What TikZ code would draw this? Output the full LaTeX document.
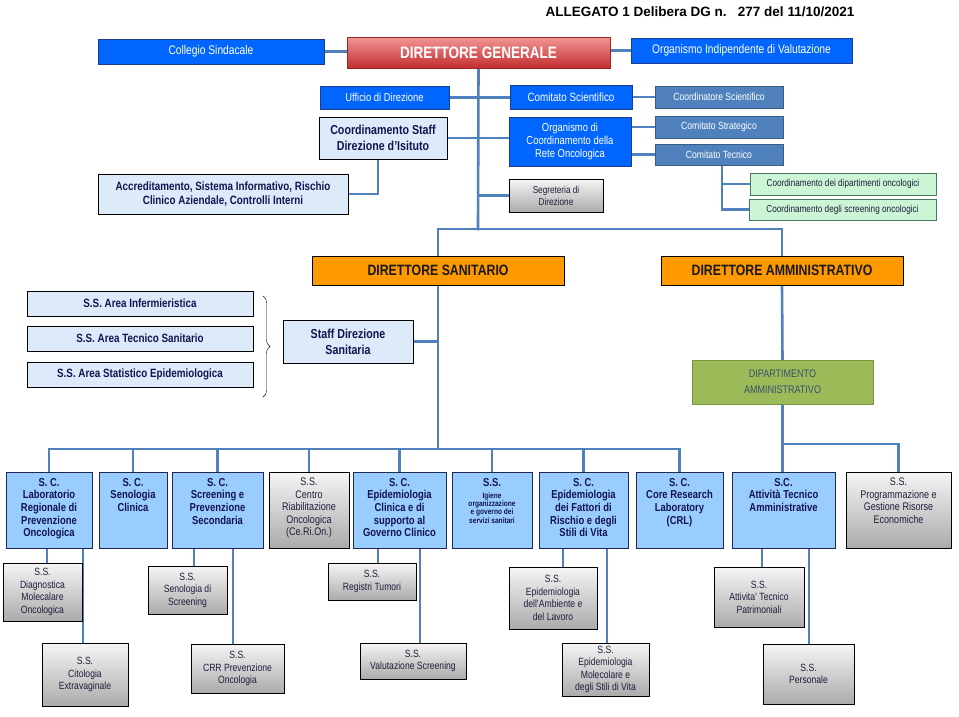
\documentclass[tikz,border=0pt]{standalone}
\usepackage{fontspec}
\setmainfont{Liberation Sans}[FakeStretch=0.82]
\newfontfamily\widefont{Liberation Sans}
\usetikzlibrary{decorations.pathreplacing,backgrounds}
\definecolor{vivid}{RGB}{0,102,255}
\definecolor{vividline}{RGB}{30,60,140}
\definecolor{steel}{RGB}{79,129,189}
\definecolor{steelline}{RGB}{56,93,138}
\definecolor{pale}{RGB}{220,234,250}
\definecolor{navy}{RGB}{20,20,80}
\definecolor{ink}{RGB}{30,30,60}
\definecolor{mint}{RGB}{204,245,214}
\definecolor{mintline}{RGB}{70,120,90}
\definecolor{orange1}{RGB}{255,153,0}
\definecolor{sky}{RGB}{153,204,255}
\definecolor{skyline}{RGB}{30,40,80}
\definecolor{olive1}{RGB}{155,187,89}
\definecolor{oliveline}{RGB}{120,150,65}
\definecolor{slate}{RGB}{60,78,110}
\definecolor{dgtop}{RGB}{242,150,150}
\definecolor{dgbot}{RGB}{195,45,45}
\definecolor{dgline}{RGB}{150,40,40}
\definecolor{linkblue}{RGB}{79,129,189}
\newcommand\fs[2]{\fontsize{#1}{#2}\selectfont}
\newcommand\tb[2]{\parbox[c][76pt][t]{#1pt}{\centering\vspace*{6pt}#2}}
\tikzset{
  wh/.style 2 args={minimum width=#1pt,minimum height=#2pt},
  box/.style={draw, inner sep=1pt, align=center, line width=0.7pt},
  vivbox/.style={box, fill=vivid, draw=vividline, text=white},
  steelbox/.style={box, fill=steel, draw=steelline, text=white, font=\fs{10.5}{12}},
  palebox/.style={box, fill=pale, draw=black, text=navy, font=\bfseries\fs{12}{14}},
  mintbox/.style={box, fill=mint, draw=mintline, text=ink, font=\fs{10}{12}},
  orbox/.style={box, fill=orange1, draw=black, text=black!90, font=\bfseries\fs{15}{17}},
  scbox/.style={box, inner sep=0pt, fill=sky, draw=skyline, text=navy, font=\bfseries\fs{11.5}{12.7}},
  greybox/.style={box, top color=white!96!black, bottom color=black!33, draw=black, text=ink, font=\fs{10.5}{12.5}},
  link/.style={draw=linkblue, line width=2.6pt, line cap=rect},
}
\begin{document}
\begin{tikzpicture}[x=1pt,y=-1pt]
\useasboundingbox (0,0) rectangle (959,716);
% vertice
\node[font=\widefont\bfseries\fs{13.5}{15}] (title) at (700,12) {ALLEGATO 1 Delibera DG n.\ \ \ 277 del 11/10/2021};
\node[vivbox, wh={226}{25}, font=\fs{12.5}{14}] (cs) at (211,51.5) {Collegio Sindacale};
\node[box, wh={263}{31}, top color=dgtop, bottom color=dgbot, draw=dgline, text=white, font=\bfseries\fs{16.5}{18}] (dg) at (478.5,52.5) {DIRETTORE GENERALE};
\node[vivbox, wh={221}{25}, font=\fs{12.5}{14}] (oiv) at (741.5,50.5) {Organismo Indipendente di Valutazione};
\node[vivbox, wh={129}{23}, font=\fs{11.5}{13}] (uff) at (384.5,97.5) {Ufficio di Direzione};
\node[palebox, wh={128}{42}, font=\bfseries\fs{13}{16}] (cstaff) at (383,138) {Coordinamento Staff\\Direzione d’Isituto};
\node[palebox, wh={250}{40}] (accr) at (223,194) {Accreditamento, Sistema Informativo, Rischio\\Clinico Aziendale, Controlli Interni};
\node[vivbox, wh={122}{24}, font=\fs{12}{14}] (csci) at (571,97) {Comitato Scientifico};
\node[vivbox, wh={122}{49}, font=\fs{11.5}{13}] (orgc) at (570,141.5) {Organismo di\\Coordinamento della\\Rete Oncologica};
\node[greybox, wh={94}{33}, font=\fs{10}{12}] (segr) at (556,195.5) {Segreteria di\\Direzione};
\node[steelbox, wh={128}{22}] (coordsci) at (719,97) {Coordinatore Scientifico};
\node[steelbox, wh={128}{22}] (cstrat) at (719,127) {Comitato Strategico};
\node[steelbox, wh={128}{21}] (ctec) at (719,154.5) {Comitato Tecnico};
\node[mintbox, wh={186}{22}] (cdip) at (843,184) {Coordinamento dei dipartimenti oncologici};
\node[mintbox, wh={187}{21}] (cscr) at (842.5,209.5) {Coordinamento degli screening oncologici};
% direzioni
\node[orbox, wh={252}{29}] (ds) at (438,270.5) {DIRETTORE SANITARIO};
\node[orbox, wh={242}{29}] (da) at (782,270.5) {DIRETTORE AMMINISTRATIVO};
\node[palebox, wh={226}{25}] (inf) at (140,303.5) {S.S. Area Infermieristica};
\node[palebox, wh={226}{25}] (tec) at (140,338.5) {S.S. Area Tecnico Sanitario};
\node[palebox, wh={226}{25}] (stat) at (140,374.5) {S.S. Area Statistico Epidemiologica};
\node[palebox, wh={130}{43}, font=\bfseries\fs{13}{16}] (sds) at (348,341.5) {Staff Direzione\\Sanitaria};
\draw[decorate, decoration={brace, amplitude=7pt}, thin] (263,296) -- (263,397);
\node[box, wh={181}{44}, fill=olive1, draw=oliveline, text=slate, font=\fs{11}{16}] (dam) at (782.5,382) {DIPARTIMENTO\\AMMINISTRATIVO};
% strutture
\node[scbox] (lab) at (49,510) {\tb{86}{S. C.\\Laboratorio\\Regionale di\\Prevenzione\\Oncologica}};
\node[scbox] (senc) at (133,510) {\tb{68}{S. C.\\Senologia\\Clinica}};
\node[scbox] (scr) at (217.5,510) {\tb{91}{S. C.\\Screening e\\Prevenzione\\Secondaria}};
\node[greybox, inner sep=0pt, font=\fs{11}{12.5}] (ceron) at (309,510) {\tb{80}{S.S.\\Centro\\Riabilitazione\\Oncologica\\(Ce.Ri.On.)}};
\node[scbox] (epc) at (399.5,510) {\tb{93}{S. C.\\Epidemiologia\\Clinica e di\\supporto al\\Governo Clinico}};
\node[scbox] (igi) at (492,510) {\tb{80}{S.S.\par\vspace{4pt}{\fs{8}{8.3}Igiene\\organizzazione\\e governo dei\\servizi sanitari\par}}};
\node[scbox] (efr) at (583.5,510) {\tb{89}{S. C.\\Epidemiologia\\dei Fattori di\\Rischio e degli\\Stili di Vita}};
\node[scbox] (crl) at (679.5,510) {\tb{87}{S. C.\\Core Research\\Laboratory\\(CRL)}};
\node[scbox] (ata) at (783.5,510) {\tb{103}{S.C.\\Attività Tecnico\\Amministrative}};
\node[greybox, inner sep=0pt, font=\fs{11}{12.5}] (prog) at (898.5,510) {\tb{105}{S.S.\\Programmazione e\\Gestione Risorse\\Economiche}};
\node[greybox, wh={79}{58}] (dmo) at (42.5,592) {S.S.\\Diagnostica\\Molecalare\\Oncologica};
\node[greybox, wh={86}{63}] (cito) at (85,674.5) {S.S.\\Citologia\\Extravaginale};
\node[greybox, wh={79}{48}] (sscr) at (187.5,590) {S.S.\\Senologia di\\Screening};
\node[greybox, wh={93}{49}] (crr) at (237.5,668.5) {S.S.\\CRR Prevenzione\\Oncologia};
\node[greybox, wh={88}{37}] (regt) at (372,581.5) {S.S.\\Registri Tumori};
\node[greybox, wh={106}{36}] (valsc) at (413,661) {S.S.\\Valutazione Screening};
\node[greybox, wh={88}{62}] (eamb) at (553,598) {S.S.\\Epidemiologia\\dell’Ambiente e\\del Lavoro};
\node[greybox, wh={87}{53}] (emol) at (605.5,669.5) {S.S.\\Epidemiologia\\Molecolare e\\degli Stili di Vita};
\node[greybox, wh={90}{60}] (atp) at (759,597) {S.S.\\Attivita’ Tecnico\\Patrimoniali};
\node[greybox, wh={91}{60}] (pers) at (808.5,674) {S.S.\\Personale};
% collegamenti
\begin{scope}[on background layer]
\coordinate (hub) at (478,229);
\coordinate (bus) at (438,449);
\coordinate (abus) at (782,444);
\draw[link] (cs.east) -- (cs.east -| dg.west);
\draw[link] (oiv.west -| dg.east) -- (oiv.west);
\draw[link] (dg.south) -- (hub);
\draw[link] (ds.north) |- (hub) -| (da.north);
\draw[link] (uff.east) -- (uff.east -| csci.west);
\draw[link] (cstaff.east) -- (cstaff.east -| orgc.west);
\draw[link] (dg.south |- segr.west) -- (segr.west);
\draw[link] ([xshift=-5pt]cstaff.south) |- (accr.east);
\draw[link] (csci.east) -- (csci.east -| coordsci.west);
\draw[link] (cstrat.west -| orgc.east) -- (cstrat.west);
\draw[link] (ctec.west -| orgc.east) -- (ctec.west);
\draw[link] ([xshift=3pt]ctec.south) |- (cdip.west);
\draw[link] ([xshift=3pt]ctec.south) |- (cscr.west);
\draw[link] (ds.south) -- (bus);
\draw[link] (sds.east) -- (sds.east -| ds.south);
\draw[link] (bus -| lab.north) -- (bus -| crl.north);
\foreach \n in {lab,senc,scr,ceron,epc,igi,efr,crl}
  \draw[link] (bus -| \n.north) -- (\n.north);
\draw[link] (da.south) -- (dam.north);
\draw[link] (dam.south) -- (dam.south |- ata.north);
\draw[link] (abus) -| (prog.north);
\foreach \p/\c/\s in {lab/dmo/-2, lab/cito/34, scr/sscr/-23.5, scr/crr/15.5, epc/regt/-21.5, epc/valsc/20.5, efr/eamb/-20.5, efr/emol/23.5, ata/atp/-21.5, ata/pers/25.5}
  \draw[link] ([xshift=\s pt]\p.south) -- ([xshift=\s pt]\p.south |- \c.north);
\end{scope}
\end{tikzpicture}
\end{document}
